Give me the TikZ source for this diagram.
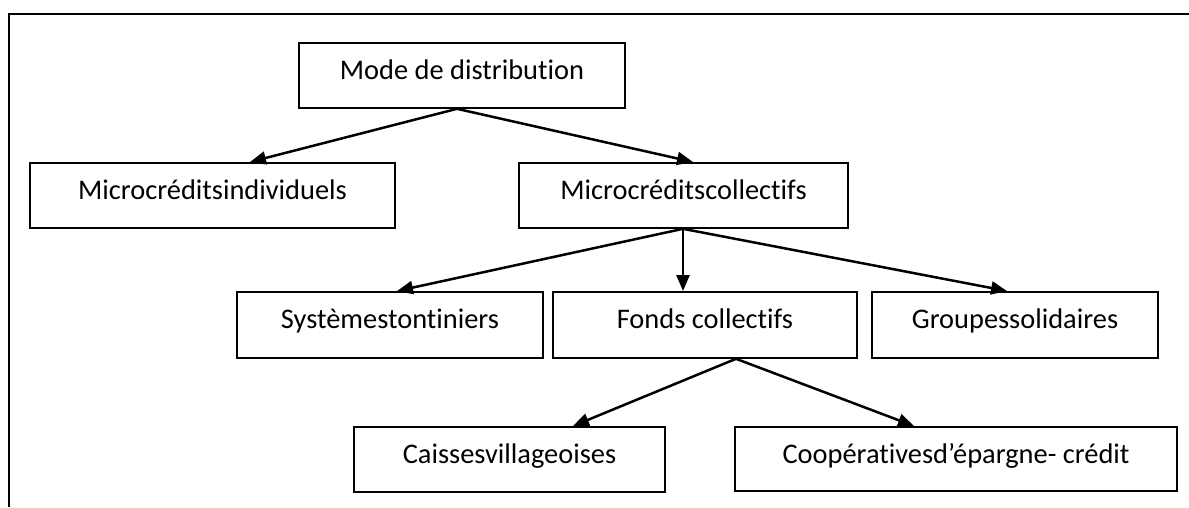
\documentclass[tikz,border=0pt]{standalone}
\usepackage{fontspec}
\setmainfont{Carlito}[RawFeature={-liga;-clig;-dlig;-calt;-rlig}]
\usetikzlibrary{arrows.meta,calc}
\begin{document}
\begin{tikzpicture}[x=1pt,y=-1pt,
  box/.style={draw=black,line width=1.8pt,inner sep=0pt,anchor=north,
    text height=37pt,text depth=28pt,font=\fontsize{28.4}{34}\selectfont},
  link/.style={line width=2.5pt,-{Triangle[length=16pt,width=13pt]}},
  frameline/.style={line width=2.6pt}]
  \useasboundingbox (0,0) rectangle (1189,507);
  % page frame: top and left rules
  \draw[frameline] (9,507) -- (9,14) -- (1189,14);

  % level 1
  \node[box,minimum width=326pt] (mode) at (462,42) {Mode de distribution};
  % level 2
  \node[box,minimum width=365pt] (mind) at (212.5,162) {Microcréditsindividuels};
  \node[box,minimum width=329pt] (mcol) at (683.5,162) {Microcréditscollectifs};
  % level 3
  \node[box,minimum width=306pt,text depth=29pt] (sys) at (390,291) {Systèmestontiniers};
  \node[box,minimum width=304pt,text depth=29pt] (fonds) at (705,291) {Fonds collectifs};
  \node[box,minimum width=286pt,text depth=29pt] (grp) at (1015,291) {Groupessolidaires};
  % level 4
  \node[box,minimum width=311pt] (caisse) at (509.5,426) {Caissesvillageoises};
  \node[box,minimum width=442pt,text depth=27pt] (coop) at (956,426) {Coopérativesd’épargne- crédit};

  % connectors
  \draw[link] ($(mode.south)+(-5,0)$) -- ($(mind.north)+(37.5,0)$);
  \draw[link] ($(mode.south)+(-5,0)$) -- ($(mcol.north)+(9.5,0)$);
  \draw[link] ($(mcol.south)+(-0.5,0)$) -- ($(sys.north)+(7,0)$);
  \draw[link] ($(mcol.south)+(-0.5,0)$) -- ($(fonds.north)+(-22,0)$);
  \draw[link] ($(mcol.south)+(-0.5,0)$) -- ($(grp.north)+(-8,0)$);
  \draw[link] ($(fonds.south)+(31,0)$) -- ($(caisse.north)+(63.5,0)$);
  \draw[link] ($(fonds.south)+(31,0)$) -- ($(coop.north)+(-42,0)$);
\end{tikzpicture}
\end{document}
